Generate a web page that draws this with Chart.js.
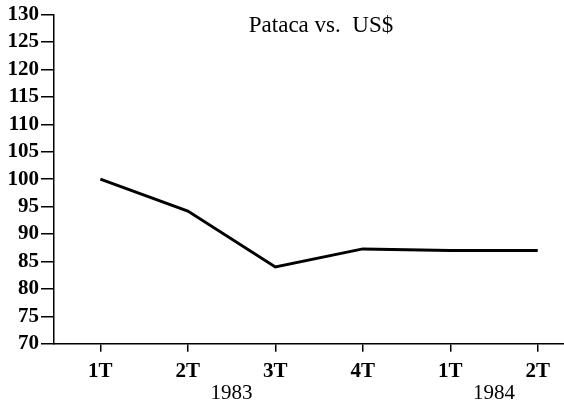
<!DOCTYPE html>
<html>
<head>
<meta charset="utf-8">
<script src="https://cdn.jsdelivr.net/npm/chart.js@4"></script>
<style>
  html, body { margin: 0; padding: 0; background: #fff; }
  #wrap { width: 564px; height: 407px; }
</style>
</head>
<body>
<div id="wrap"><canvas id="grafico"></canvas></div>
<script>
// data
const quarters = ['1T', '2T', '3T', '4T', '1T', '2T'];
const pataca = [100, 94.2, 84, 87.3, 87, 87];
const years = ['1983', '1984'];
const yearPos = [1.5, 4.5]; // year labels sit between quarters
const titleText = 'Pataca vs.  US$';

const serif = '"Liberation Serif", "DejaVu Serif", serif';

// title drawn inside the plot, like in the original
const titlePlugin = {
    id: 'titleInside',
    afterDraw(chart) {
        const ctx = chart.ctx;
        ctx.save();
        ctx.font = '23px ' + serif;
        ctx.fillStyle = '#000';
        ctx.textAlign = 'center';
        ctx.textBaseline = 'middle';
        ctx.fillText(titleText, 321, 26);
        ctx.restore();
    }
};

const ctx = document.getElementById('grafico').getContext('2d');
new Chart(ctx, {
    type: 'line',
    data: {
        datasets: [{
            data: pataca.map((v, i) => ({ x: i, y: v })),
            borderColor: '#000',
            borderWidth: 3,
            pointRadius: 0,
            tension: 0,
            fill: false
        }]
    },
    options: {
        responsive: true,
        maintainAspectRatio: false,
        animation: false,
        layout: { padding: { top: 14, right: 0, left: 0, bottom: 0 } },
        plugins: {
            legend: { display: false },
            tooltip: { enabled: false }
        },
        scales: {
            x: {
                type: 'linear',
                position: 'bottom',
                min: -0.53,
                max: 5.3,
                afterBuildTicks: (axis) => { axis.ticks = quarters.map((_, i) => ({ value: i })); },
                afterFit: (axis) => { axis.height = 36; },
                ticks: {
                    callback: (value) => quarters[value],
                    color: '#000',
                    font: { family: serif, size: 21, weight: 'bold' },
                    padding: 7,
                    maxRotation: 0,
                    autoSkip: false
                },
                grid: { drawOnChartArea: false, drawTicks: true, tickLength: 8, color: '#000', lineWidth: 1.5 },
                border: { display: true, color: '#000', width: 1.5 }
            },
            anos: {
                type: 'linear',
                position: 'bottom',
                min: -0.53,
                max: 5.3,
                afterBuildTicks: (axis) => { axis.ticks = yearPos.map(v => ({ value: v })); },
                ticks: {
                    callback: (value) => years[yearPos.indexOf(value)],
                    color: '#000',
                    font: { family: serif, size: 21 },
                    padding: 1,
                    maxRotation: 0,
                    autoSkip: false
                },
                grid: { display: false, drawTicks: false },
                border: { display: false }
            },
            y: {
                min: 70,
                max: 130,
                afterFit: (axis) => { axis.width = 54; },
                ticks: {
                    stepSize: 5,
                    autoSkip: false,
                    color: '#000',
                    font: { family: serif, size: 21, weight: 'bold' },
                    padding: 2
                },
                grid: { drawOnChartArea: false, drawTicks: true, tickLength: 13, color: '#000', lineWidth: 1.5 },
                border: { display: true, color: '#000', width: 1.5 }
            }
        }
    },
    plugins: [titlePlugin]
});
</script>
</body>
</html>
